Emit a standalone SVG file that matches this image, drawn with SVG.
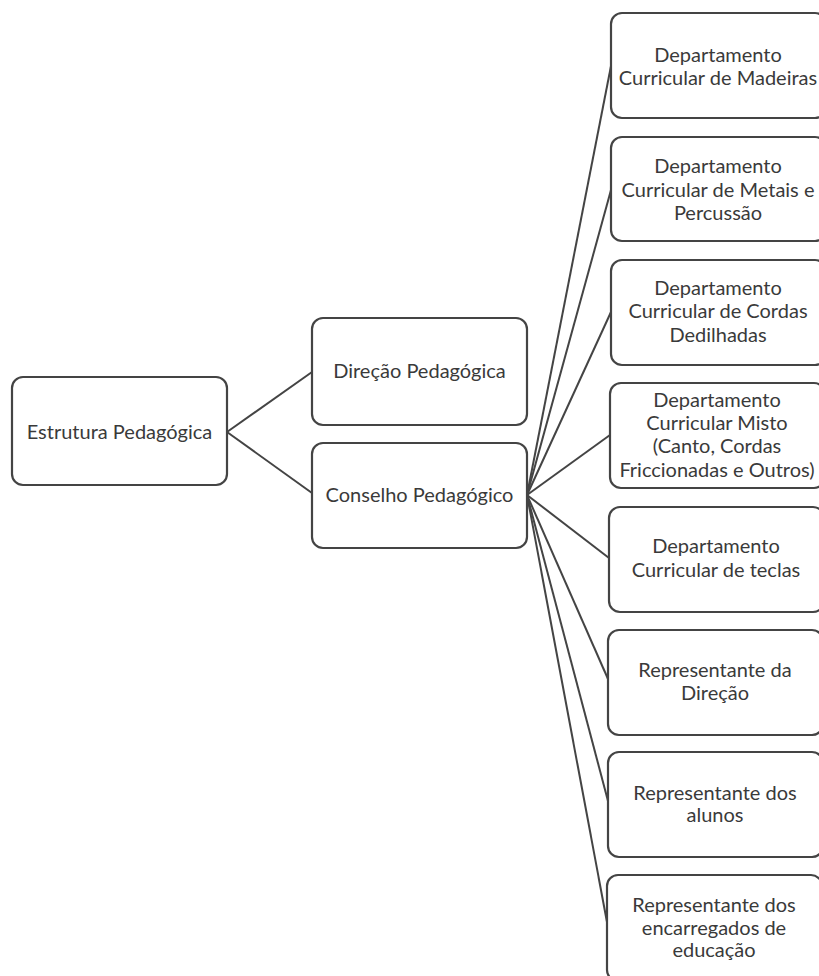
<svg xmlns="http://www.w3.org/2000/svg" width="819" height="976" viewBox="0 0 819 976">
<style>
.box{fill:#fff;stroke:#444;stroke-width:2.2}
.t{font-family:Lato,"Open Sans",sans-serif;font-size:20px;fill:#3a3a3a;text-anchor:middle}
.c{stroke:#444;stroke-width:2;fill:none}
</style>
<rect width="819" height="976" fill="#fff"/>
<g id="connectors">
<line class="c" x1="227" y1="432" x2="312" y2="372"/>
<line class="c" x1="227" y1="432" x2="312" y2="493"/>
<line class="c" x1="527" y1="495" x2="611" y2="66"/>
<line class="c" x1="527" y1="495" x2="611" y2="190"/>
<line class="c" x1="527" y1="495" x2="611" y2="312"/>
<line class="c" x1="527" y1="495" x2="610" y2="435"/>
<line class="c" x1="527" y1="495" x2="609" y2="558"/>
<line class="c" x1="527" y1="495" x2="608" y2="679"/>
<line class="c" x1="527" y1="495" x2="608" y2="801"/>
<line class="c" x1="527" y1="495" x2="607" y2="922"/>
</g>
<g id="estrutura"><rect class="box" x="12" y="377" width="215" height="108" rx="11"/><text class="t" x="119.5" y="439">Estrutura Pedagógica</text></g>
<g id="direcao"><rect class="box" x="312" y="318" width="215" height="107" rx="11"/><text class="t" x="419.5" y="378">Direção Pedagógica</text></g>
<g id="conselho"><rect class="box" x="312" y="443" width="215" height="105" rx="11"/><text class="t" x="419.5" y="502">Conselho Pedagógico</text></g>
<g id="madeiras"><rect class="box" x="611" y="13" width="215" height="105" rx="11"/><text class="t" x="718" y="62">Departamento</text><text class="t" x="718" y="85">Curricular de Madeiras</text></g>
<g id="metais"><rect class="box" x="611" y="137" width="215" height="104" rx="11"/><text class="t" x="718" y="173">Departamento</text><text class="t" x="718" y="197">Curricular de Metais e</text><text class="t" x="718" y="220">Percussão</text></g>
<g id="cordas"><rect class="box" x="611" y="260" width="215" height="105" rx="11"/><text class="t" x="718" y="295">Departamento</text><text class="t" x="718" y="318">Curricular de Cordas</text><text class="t" x="718" y="342">Dedilhadas</text></g>
<g id="misto"><rect class="box" x="610" y="383" width="215" height="105" rx="11"/><text class="t" x="717" y="407">Departamento</text><text class="t" x="717" y="430">Curricular Misto</text><text class="t" x="717" y="453">(Canto, Cordas</text><text class="t" x="717" y="477">Friccionadas e Outros)</text></g>
<g id="teclas"><rect class="box" x="609" y="507" width="215" height="105" rx="11"/><text class="t" x="716" y="553">Departamento</text><text class="t" x="716" y="577">Curricular de teclas</text></g>
<g id="rep-direcao"><rect class="box" x="608" y="630" width="215" height="105" rx="11"/><text class="t" x="715" y="677">Representante da</text><text class="t" x="715" y="700">Direção</text></g>
<g id="rep-alunos"><rect class="box" x="608" y="752" width="215" height="105" rx="11"/><text class="t" x="715" y="800">Representante dos</text><text class="t" x="715" y="822">alunos</text></g>
<g id="rep-encarregados"><rect class="box" x="607" y="875" width="215" height="106" rx="11"/><text class="t" x="714" y="912">Representante dos</text><text class="t" x="714" y="935">encarregados de</text><text class="t" x="714" y="957">educação</text></g>
</svg>
